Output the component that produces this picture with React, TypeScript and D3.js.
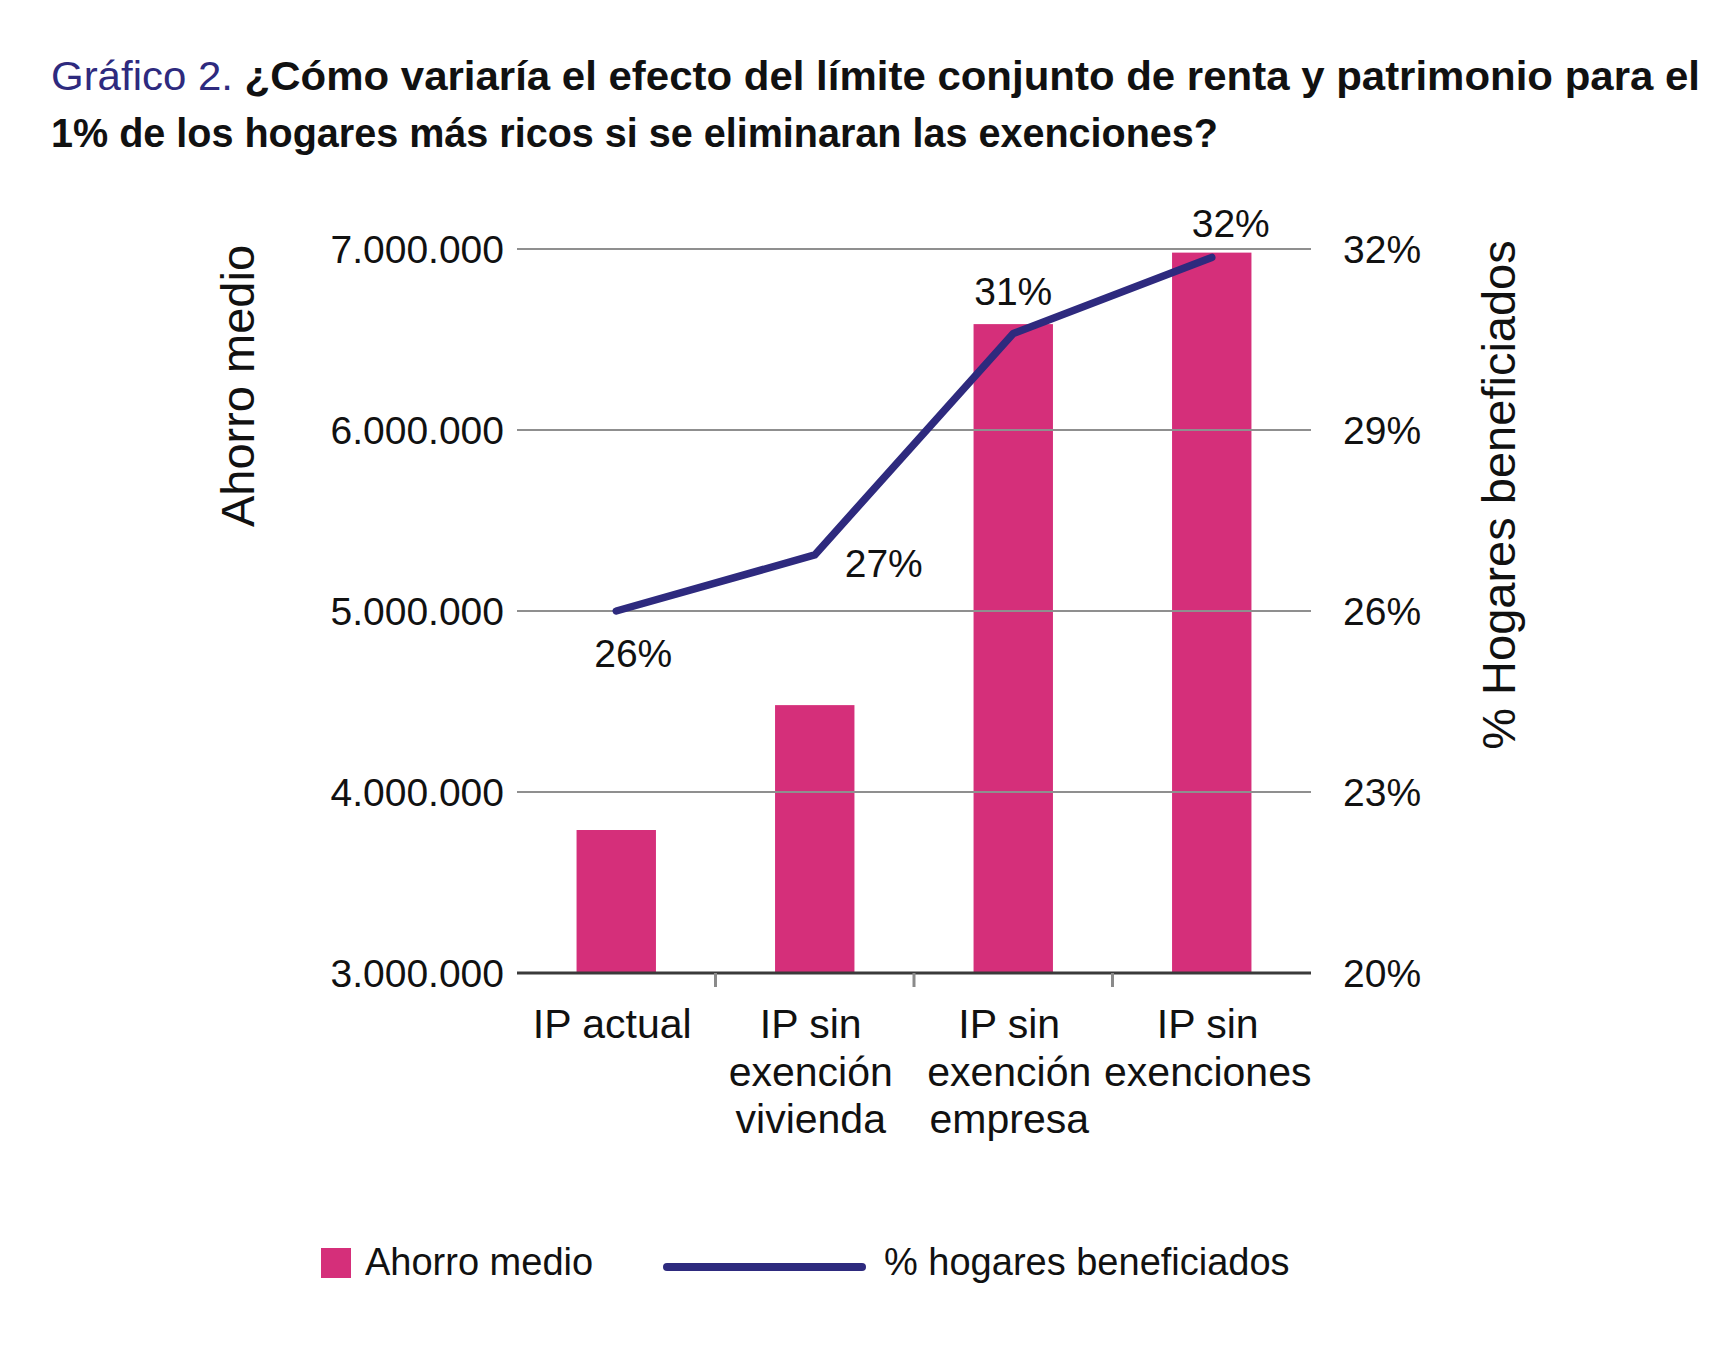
import { useEffect, useRef } from 'react';
import * as d3 from 'd3';

// Data
const categories = ['IP actual', 'IP sin exención vivienda', 'IP sin exención empresa', 'IP sin exenciones'];
const categoryLines = [['IP actual'], ['IP sin', 'exención', 'vivienda'], ['IP sin', 'exención', 'empresa'], ['IP sin', 'exenciones']];
const ahorroMedio = [3790000, 4480000, 6585000, 6980000];
const hogaresBeneficiados = [26.0, 26.93, 30.6, 31.86];
const hogaresLabels = ['26%', '27%', '31%', '32%'];
const leftTicks = [3000000, 4000000, 5000000, 6000000, 7000000];
const rightTicks = [20, 23, 26, 29, 32];

const titlePrefix = 'Gráfico 2. ';
const titleLine1 = '¿Cómo variaría el efecto del límite conjunto de renta y patrimonio para el';
const titleLine2 = '1% de los hogares más ricos si se eliminaran las exenciones?';

const PINK = '#d52f7a';
const NAVY = '#2e2a7e';
const FONT = "'Liberation Sans', Arial, sans-serif";

const App = () => {
  const ref = useRef<SVGSVGElement | null>(null);

  useEffect(() => {
    if (!ref.current) return;
    const svg = d3.select(ref.current);
    svg.selectAll('*').remove();

    const width = 1736;
    const height = 1358;
    const plot = { left: 517, right: 1311, top: 249, bottom: 973 };

    svg.attr('width', width).attr('height', height).attr('font-family', FONT);

    const fmt = d3.formatLocale({ decimal: ',', thousands: '.', grouping: [3], currency: ['', ''] }).format(',d');

    const x = d3.scaleBand<string>()
      .domain(categories)
      .range([plot.left, plot.right])
      .paddingInner(0.6)
      .paddingOuter(0.3);

    const yLeft = d3.scaleLinear().domain([3000000, 7000000]).range([plot.bottom, plot.top]);
    const yRight = d3.scaleLinear().domain([20, 32]).range([plot.bottom, plot.top]);

    // Title (condensed by squeezing to the reference widths)
    const titleSize = 41;
    const t1 = svg.append('text')
      .attr('x', 51)
      .attr('y', 90)
      .attr('font-size', titleSize)
      .attr('textLength', 1649)
      .attr('lengthAdjust', 'spacingAndGlyphs');
    t1.append('tspan').attr('fill', NAVY).text(titlePrefix);
    t1.append('tspan').attr('fill', '#111').attr('font-weight', 'bold').text(titleLine1);

    svg.append('text')
      .attr('x', 51)
      .attr('y', 147)
      .attr('font-size', titleSize)
      .attr('font-weight', 'bold')
      .attr('fill', '#111')
      .attr('textLength', 1167)
      .attr('lengthAdjust', 'spacingAndGlyphs')
      .text(titleLine2);

    const g = svg.append('g');

    // Bars
    g.selectAll('.bar')
      .data(ahorroMedio)
      .enter()
      .append('rect')
      .attr('x', (_, i) => x(categories[i]) || 0)
      .attr('y', d => yLeft(d))
      .attr('width', x.bandwidth())
      .attr('height', d => plot.bottom - yLeft(d))
      .attr('fill', PINK);

    // Gridlines (drawn over the bars)
    g.selectAll('.grid')
      .data(leftTicks.slice(1))
      .enter()
      .append('line')
      .attr('x1', plot.left)
      .attr('x2', plot.right)
      .attr('y1', d => yLeft(d))
      .attr('y2', d => yLeft(d))
      .attr('stroke', '#8f8f8f')
      .attr('stroke-width', 2);

    // Baseline + tick marks between categories
    g.append('line')
      .attr('x1', plot.left)
      .attr('x2', plot.right)
      .attr('y1', plot.bottom)
      .attr('y2', plot.bottom)
      .attr('stroke', '#3a3a3a')
      .attr('stroke-width', 3);

    const step = x.step();
    g.selectAll('.xtick')
      .data(categories.slice(1))
      .enter()
      .append('line')
      .attr('x1', d => (x(d) || 0) + x.bandwidth() / 2 - step / 2)
      .attr('x2', d => (x(d) || 0) + x.bandwidth() / 2 - step / 2)
      .attr('y1', plot.bottom)
      .attr('y2', plot.bottom + 14)
      .attr('stroke', '#8a8a8a')
      .attr('stroke-width', 3);

    // Left axis labels
    g.selectAll('.ltick')
      .data(leftTicks)
      .enter()
      .append('text')
      .attr('x', 504)
      .attr('y', d => yLeft(d))
      .attr('dy', '0.36em')
      .attr('text-anchor', 'end')
      .attr('font-size', 39)
      .attr('fill', '#111')
      .text(d => fmt(d));

    // Right axis labels
    g.selectAll('.rtick')
      .data(rightTicks)
      .enter()
      .append('text')
      .attr('x', 1343)
      .attr('y', d => yRight(d))
      .attr('dy', '0.36em')
      .attr('font-size', 39)
      .attr('fill', '#111')
      .text(d => `${d}%`);

    // Category labels
    categoryLines.forEach((lines, i) => {
      const cxBand = (x(categories[i]) || 0) + x.bandwidth() / 2 - 4;
      const t = g.append('text')
        .attr('text-anchor', 'middle')
        .attr('font-size', 41)
        .attr('fill', '#111');
      lines.forEach((ln, j) => {
        t.append('tspan').attr('x', cxBand).attr('y', 1038 + j * 47.5).text(ln);
      });
    });

    // Line series
    const line = d3.line<number>()
      .x((_, i) => (x(categories[i]) || 0) + x.bandwidth() / 2)
      .y(d => yRight(d));

    g.append('path')
      .datum(hogaresBeneficiados)
      .attr('d', line)
      .attr('fill', 'none')
      .attr('stroke', NAVY)
      .attr('stroke-width', 7.5)
      .attr('stroke-linecap', 'round')
      .attr('stroke-linejoin', 'round');

    // Line labels
    const labelOffset = [[17, 56], [69, 22], [0, -28], [19, -20]];
    g.selectAll('.plabel')
      .data(hogaresBeneficiados)
      .enter()
      .append('text')
      .attr('x', (_, i) => (x(categories[i]) || 0) + x.bandwidth() / 2 + labelOffset[i][0])
      .attr('y', (d, i) => yRight(d) + labelOffset[i][1])
      .attr('text-anchor', 'middle')
      .attr('font-size', 39)
      .attr('fill', '#111')
      .text((_, i) => hogaresLabels[i]);

    // Axis titles
    g.append('text')
      .attr('transform', 'translate(254, 386) rotate(-90)')
      .attr('text-anchor', 'middle')
      .attr('font-size', 47)
      .attr('fill', '#111')
      .text('Ahorro medio');

    g.append('text')
      .attr('transform', 'translate(1515, 495) rotate(-90)')
      .attr('text-anchor', 'middle')
      .attr('font-size', 47)
      .attr('fill', '#111')
      .text('% Hogares beneficiados');

    // Legend
    g.append('rect')
      .attr('x', 321)
      .attr('y', 1248)
      .attr('width', 30)
      .attr('height', 30)
      .attr('fill', PINK);
    g.append('text')
      .attr('x', 365)
      .attr('y', 1275)
      .attr('font-size', 38)
      .attr('fill', '#111')
      .text('Ahorro medio');
    g.append('line')
      .attr('x1', 667)
      .attr('x2', 862)
      .attr('y1', 1267)
      .attr('y2', 1267)
      .attr('stroke', NAVY)
      .attr('stroke-width', 8)
      .attr('stroke-linecap', 'round');
    g.append('text')
      .attr('x', 884)
      .attr('y', 1275)
      .attr('font-size', 38)
      .attr('fill', '#111')
      .text('% hogares beneficiados');
  }, []);

  return (
    <div style={{ position: 'absolute', left: 0, top: 0, background: '#fff' }}>
      <svg ref={ref}></svg>
    </div>
  );
};

export default App;
